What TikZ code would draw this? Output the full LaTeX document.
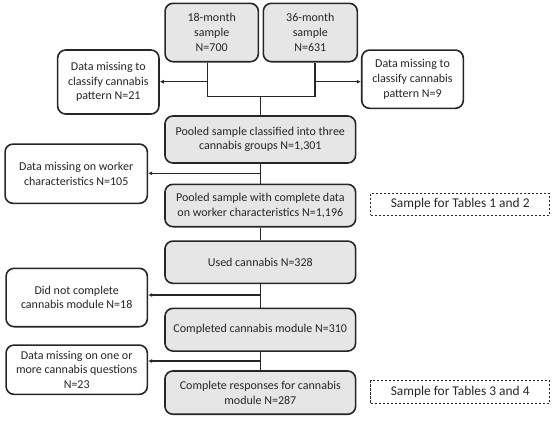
\documentclass[tikz,border=0pt]{standalone}
\usepackage{fontspec}
\setmainfont{Carlito}
\usetikzlibrary{arrows.meta}
\definecolor{boxfill}{HTML}{E6E6E6}
\definecolor{edge}{HTML}{262626}
\begin{document}
\begin{tikzpicture}[x=1pt,y=-1pt,
  every node/.style={font=\fontsize{12}{14.7}\selectfont, align=center, inner sep=0pt, text=black!85},
  graybox/.style={draw=edge, line width=1.6pt, rounded corners=8pt, fill=boxfill},
  whitebox/.style={draw=edge, line width=1.6pt, rounded corners=8pt, fill=white},
  dashbox/.style={draw=edge, line width=1.1pt, dash pattern=on 2.5pt off 1.5pt, font=\fontsize{13.4}{16}\selectfont},
  conn/.style={draw=edge, line width=1.4pt},
  arr/.style={conn, -{Latex[length=4pt,width=4pt]}}]
\useasboundingbox (0,0) rectangle (554,421);
\node[graybox, minimum width=93.3pt, minimum height=58.4pt] (m18) at (211.7,32.5) {18-month\\sample\\N=700};
\node[graybox, minimum width=94pt, minimum height=58.4pt] (m36) at (310.3,32.5) {36-month\\sample\\N=631};
\node[whitebox, minimum width=101.3pt, minimum height=64pt] (miss21) at (108.3,82) {Data missing to\\classify cannabis\\pattern N=21};
\node[whitebox, minimum width=101.6pt, minimum height=58.3pt] (miss9) at (412.5,79.2) {Data missing to\\classify cannabis\\pattern N=9};
\node[graybox, minimum width=190.7pt, minimum height=47pt] (pool1) at (260.3,139.5) {Pooled sample classified into three\\cannabis groups N=1,301};
\node[whitebox, minimum width=142.3pt, minimum height=59.3pt] (miss105) at (76.2,173.7) {Data missing on worker\\characteristics N=105};
\node[graybox, minimum width=190.7pt, minimum height=42.4pt] (pool2) at (260.3,205.5) {Pooled sample with complete data\\on worker characteristics N=1,196};
\node[graybox, minimum width=190.7pt, minimum height=42.3pt] (used) at (260.3,262.2) {Used cannabis N=328};
\node[whitebox, minimum width=141.3pt, minimum height=58.4pt] (dnc) at (76.7,297.5) {Did not complete\\cannabis module N=18};
\node[graybox, minimum width=190.7pt, minimum height=42.7pt] (comp) at (260.3,329.7) {Completed cannabis module N=310};
\node[whitebox, minimum width=141.3pt, minimum height=49.3pt] (miss23) at (76.7,369.7) {Data missing on one or\\more cannabis questions\\N=23};
\node[graybox, minimum width=190.7pt, minimum height=43.3pt] (resp) at (260.3,392.6) {Complete responses for cannabis\\module N=287};
\node[dashbox, minimum width=179pt, minimum height=21.7pt] (tab12) at (460.2,204.2) {Sample for Tables 1 and 2};
\node[dashbox, minimum width=179pt, minimum height=22.6pt] (tab34) at (460.2,392) {Sample for Tables 3 and 4};
% connectors
\coordinate (s18) at ([xshift=-4pt]m18.south);
\coordinate (s36) at ([xshift=4.7pt]m36.south);
\coordinate (j18) at (207.7,96.7);
\coordinate (j36) at (315,96.7);
\coordinate (jc) at (260.3,96.7);
\coordinate (a21) at (207.7,81.7);
\coordinate (a9) at (315,81.7);
\draw[conn] (s18) -- (j18) -- (j36) -- (s36);
\draw[conn] (jc) -- (pool1.north);
\draw[arr] (a21) -- (a21 -| miss21.east);
\draw[arr] (a9) -- (a9 -| miss9.west);
\draw[conn] (pool1.south) -- (pool2.north);
\coordinate (a105) at (260.3,173.3);
\draw[arr] (a105) -- (a105 -| miss105.east);
\draw[conn] (pool2.south) -- (used.north);
\draw[conn] (used.south) -- (comp.north);
\coordinate (a18) at (260.3,295);
\draw[arr] (a18) -- (a18 -| dnc.east);
\draw[conn] (comp.south) -- (resp.north);
\coordinate (a23) at (260.3,361);
\draw[arr] (a23) -- (a23 -| miss23.east);
\end{tikzpicture}
\end{document}
